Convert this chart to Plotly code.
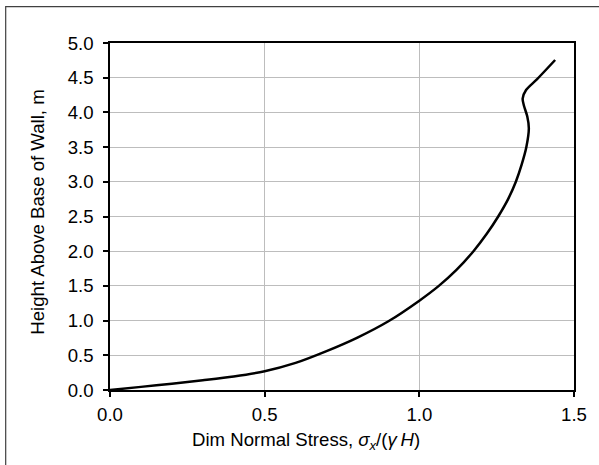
import plotly.graph_objects as go

# Dimensionless normal stress on the wall vs. height above the base
stress = [0.0, 0.1, 0.2, 0.3, 0.4, 0.5, 0.6, 0.7, 0.8, 0.9, 1.0,
          1.063, 1.12, 1.175, 1.218, 1.255, 1.287, 1.312, 1.331, 1.346,
          1.354, 1.349, 1.338, 1.334, 1.345, 1.38, 1.439]
height = [0.0, 0.045, 0.09, 0.14, 0.195, 0.27, 0.39, 0.56, 0.755, 0.99, 1.287,
          1.5, 1.73, 2.0, 2.25, 2.5, 2.75, 3.0, 3.25, 3.5,
          3.77, 3.94, 4.1, 4.2, 4.323, 4.476, 4.755]

x_ticks = [0.0, 0.5, 1.0, 1.5]
y_ticks = [0.0, 0.5, 1.0, 1.5, 2.0, 2.5, 3.0, 3.5, 4.0, 4.5, 5.0]

x_title = "Dim Normal Stress, <i>σ<sub>x</sub></i>/(<i>γ\u2009H</i>)"
y_title = "Height Above Base of Wall, m"

FONT = "Liberation Sans, Arial, sans-serif"
FS = 18.6

fig = go.Figure()
fig.add_trace(go.Scatter(
    x=stress, y=height, mode="lines",
    line=dict(color="black", width=2.5, shape="spline", smoothing=0.8),
    showlegend=False, hoverinfo="skip",
))

axis_common = dict(
    showline=True, linecolor="black", linewidth=1.5, mirror=True,
    showgrid=True, gridcolor="#bdbdbd", gridwidth=1,
    ticks="outside", ticklen=5, tickwidth=1.5, tickcolor="black",
    tickformat=".1f", zeroline=False,
    tickfont=dict(family=FONT, size=FS, color="black"),
)

fig.update_xaxes(range=[0, 1.5], tickvals=x_ticks, ticklabelstandoff=2,
                 **axis_common)
fig.update_yaxes(range=[0, 5], tickvals=y_ticks, ticklabelstandoff=6,
                 **axis_common)

# axis titles, placed relative to the chart area
fig.add_annotation(text=x_title, xref="paper", yref="paper",
                   x=0.4224, y=-0.147, xanchor="center", yanchor="middle",
                   showarrow=False, font=dict(family=FONT, size=FS, color="black"))
fig.add_annotation(text=y_title, xref="paper", yref="paper", textangle=-90,
                   x=-0.157, y=0.5115, xanchor="center", yanchor="middle",
                   showarrow=False, font=dict(family=FONT, size=FS, color="black"))

# chart-area frame (its right and bottom edges run past the page)
fig.add_shape(type="rect", xref="paper", yref="paper",
              x0=-0.2248, x1=1.08, y0=-0.25, y1=1.1046,
              line=dict(color="#404040", width=1.2), fillcolor="rgba(0,0,0,0)",
              layer="below")

fig.update_layout(
    width=599, height=465,
    margin=dict(l=110, r=25, t=43, b=75),
    paper_bgcolor="white", plot_bgcolor="white",
    font=dict(family=FONT, color="black"),
)

fig.write_html("out.html")
